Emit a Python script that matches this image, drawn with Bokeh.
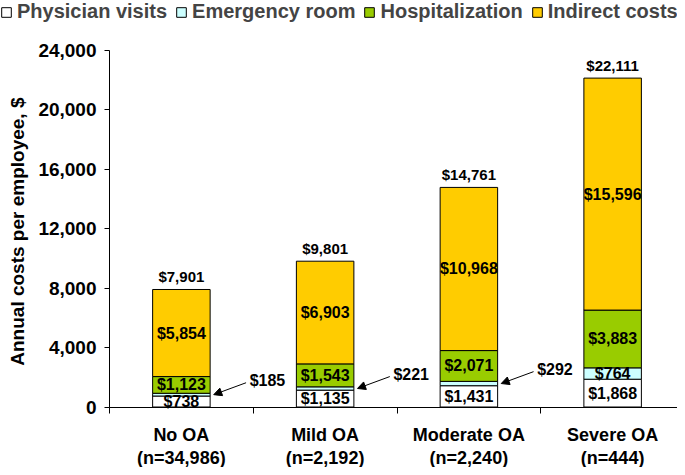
from bokeh.plotting import figure
from bokeh.models import (ColumnDataSource, Range1d, FixedTicker, NumeralTickFormatter,
                          Legend, LegendItem, Arrow, NormalHead)
from bokeh.core.properties import value
from bokeh.embed import file_html
from bokeh.resources import INLINE

# ---- data ----
categories = ["No OA", "Mild OA", "Moderate OA", "Severe OA"]
sample_sizes = ["(n=34,986)", "(n=2,192)", "(n=2,240)", "(n=444)"]
physician = [738, 1135, 1431, 1868]
emergency = [185, 221, 292, 764]
hospital = [1123, 1543, 2071, 3883]
indirect = [5854, 6903, 10968, 15596]
totals = [7901, 9801, 14761, 22111]
series_names = ["Physician visits", "Emergency room", "Hospitalization", "Indirect costs"]
y_ticks = [0, 4000, 8000, 12000, 16000, 20000, 24000]
er_label_inside = [False, False, False, True]

FONT = value("Liberation Sans")
colors = ["#FFFFFF", "#CCFFFF", "#99CC00", "#FFCC00"]

# ---- layout constants (pixels) ----
W, H = 677, 467
AXIS_X = 109            # pixel of the y axis
TOP_Y = 49.5            # pixel of the 24,000 level
ZERO_Y = 406.5          # pixel of the 0 level
CAT_W = 143.75          # width of one category
ypp = y_ticks[-1] / (ZERO_Y - TOP_Y)
n = len(categories)

x = [i + 0.5 for i in range(n)]
src = ColumnDataSource(dict(x=x, physician=physician, emergency=emergency,
                            hospital=hospital, indirect=indirect))

p = figure(width=W, height=H,
           x_range=Range1d(-AXIS_X / CAT_W, (W - AXIS_X) / CAT_W),
           y_range=Range1d(-(H - ZERO_Y) * ypp, y_ticks[-1] + TOP_Y * ypp),
           output_backend="svg", toolbar_location=None,
           min_border_left=0, min_border_right=0, min_border_top=0, min_border_bottom=0)
p.outline_line_color = None
p.xgrid.visible = False
p.ygrid.visible = False

stack = ["physician", "emergency", "hospital", "indirect"]
rs = p.vbar_stack(stack, x="x", width=0.4, fill_color=colors, line_color="black",
                  line_width=1, source=src)

# segment labels
lx, ly, lt = [], [], []
for i in range(n):
    base = 0
    segs = [physician[i], emergency[i], hospital[i], indirect[i]]
    for k, v in enumerate(segs):
        if k != 1 or er_label_inside[i]:
            lx.append(x[i]); ly.append(base + v / 2); lt.append(f"${v:,}")
        base += v
p.text(x=lx, y=ly, text=lt, text_font=FONT, text_font_style="bold", text_font_size="16px",
       text_align="center", text_baseline="middle", text_color="black")

# totals
p.text(x=x, y=totals, text=[f"${t:,}" for t in totals], text_font=FONT,
       text_font_style="bold", text_font_size="15px", text_align="center",
       text_baseline="bottom", y_offset=-4, text_color="black")

# arrows for small ER segments
ax0, ay0, ax1, ay1, atx, aty, att = [], [], [], [], [], [], []
for i in range(n):
    if not er_label_inside[i]:
        mid = physician[i] + emergency[i] / 2
        ax1.append(x[i] + 0.225); ay1.append(mid)
        ax0.append(x[i] + 0.45); ay0.append(mid + 800)
        atx.append(x[i] + 0.475); aty.append(mid + 970); att.append(f"${emergency[i]:,}")
asrc = ColumnDataSource(dict(x0=ax0, y0=ay0, x1=ax1, y1=ay1))
p.add_layout(Arrow(end=NormalHead(size=8, fill_color="black", line_color="black"),
                   x_start="x0", y_start="y0", x_end="x1", y_end="y1",
                   line_color="black", line_width=1, source=asrc))
p.text(x=atx, y=aty, text=att, text_font=FONT, text_font_style="bold", text_font_size="16px",
       text_align="left", text_baseline="middle", text_color="black")

# x axis drawn at y = 0, ticks between categories
p.xaxis.fixed_location = 0
p.xaxis.bounds = (0, n)
p.xaxis.ticker = FixedTicker(ticks=x, minor_ticks=list(range(n + 1)))
p.xaxis.major_label_overrides = {x[i]: f"{categories[i]}\n{sample_sizes[i]}" for i in range(n)}
p.xaxis.major_tick_out = 0
p.xaxis.major_tick_in = 0
p.xaxis.minor_tick_out = 6
p.xaxis.minor_tick_in = 0
p.xaxis.major_label_standoff = 12
p.xaxis.major_label_text_font = "Liberation Sans"
p.xaxis.major_label_text_font_style = "bold"
p.xaxis.major_label_text_font_size = "18px"
p.xaxis.major_label_text_line_height = 1.15
p.xaxis.major_label_text_color = "black"
p.xaxis.axis_line_color = "black"
p.xaxis.minor_tick_line_color = "black"

# y axis drawn at x = 0
p.yaxis.fixed_location = 0
p.yaxis.bounds = (0, y_ticks[-1])
p.yaxis.ticker = FixedTicker(ticks=y_ticks, minor_ticks=[])
p.yaxis.formatter = NumeralTickFormatter(format="0,0")
p.yaxis.major_tick_out = 5
p.yaxis.major_tick_in = 0
p.yaxis.major_label_standoff = 8
p.yaxis.major_label_text_font = "Liberation Sans"
p.yaxis.major_label_text_font_style = "bold"
p.yaxis.major_label_text_font_size = "19px"
p.yaxis.major_label_text_color = "black"
p.yaxis.axis_label = "Annual  costs per employee, $"
p.yaxis.axis_label_text_font = "Liberation Sans"
p.yaxis.axis_label_text_font_style = "bold"
p.yaxis.axis_label_text_font_size = "19px"
p.yaxis.axis_label_text_color = "black"
p.yaxis.axis_label_standoff = 7
p.yaxis.axis_line_color = "black"
p.yaxis.major_tick_line_color = "black"

legend = Legend(items=[LegendItem(label=series_names[k], renderers=[rs[k]]) for k in range(4)],
                orientation="horizontal", location=(0, H - 23),
                glyph_width=12, glyph_height=12, label_standoff=5, spacing=8, padding=0,
                margin=0, border_line_color=None, background_fill_alpha=0,
                label_text_font="Liberation Sans", label_text_font_size="20px",
                label_text_font_style="bold", label_height=12)
p.add_layout(legend)

open("out.html", "w").write(file_html(p, INLINE))
